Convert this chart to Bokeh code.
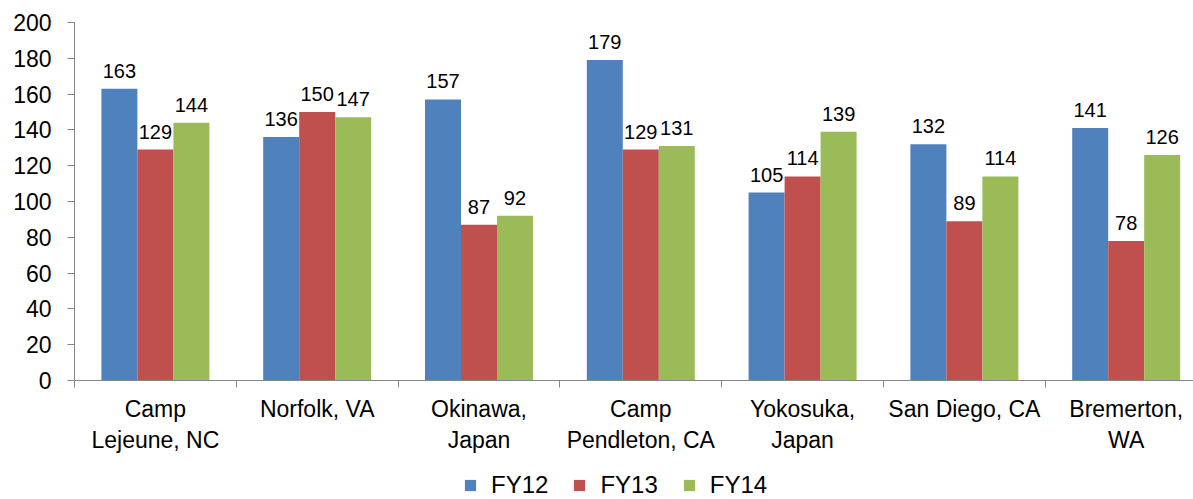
from bokeh.plotting import figure
from bokeh.layouts import column
from bokeh.models import Range1d, FixedTicker, ColumnDataSource, LabelSet, Legend, LegendItem
from bokeh.core.properties import value
from bokeh.embed import file_html
from bokeh.resources import INLINE

categories = ["Camp\nLejeune, NC", "Norfolk, VA", "Okinawa,\nJapan", "Camp\nPendleton, CA",
              "Yokosuka,\nJapan", "San Diego, CA", "Bremerton,\nWA"]
fy12 = [163, 136, 157, 179, 105, 132, 141]
fy13 = [129, 150, 87, 129, 114, 89, 78]
fy14 = [144, 147, 92, 131, 139, 114, 126]
series_names = ["FY12", "FY13", "FY14"]
series_values = [fy12, fy13, fy14]
colors = ["#4F81BD", "#C0504D", "#9BBB59"]
y_ticks = list(range(0, 201, 20))

FONT = "Liberation Sans"
AXIS_COLOR = "#868686"
W = 1193
H_MAIN, H_LEG = 455, 44
bar_w = 0.2225
offsets = [-bar_w, 0.0, bar_w]

p1 = figure(width=W, height=H_MAIN, output_backend="svg", toolbar_location=None,
            x_range=Range1d(0, 6.916), y_range=Range1d(0, 200),
            min_border_left=74, min_border_right=0, min_border_top=22, min_border_bottom=74)
p1.xgrid.grid_line_color = None
p1.ygrid.grid_line_color = None
p1.outline_line_color = None

sources = []
for name, vals, col, off in zip(series_names, series_values, colors, offsets):
    xs = [i + 0.5 + off for i in range(len(categories))]
    src = ColumnDataSource(dict(x=xs, top=vals, label=[str(v) for v in vals]))
    sources.append(src)
    p1.vbar(x="x", top="top", bottom=0, width=bar_w, source=src,
            fill_color=col, line_color=None)
    lbl = LabelSet(x="x", y="top", text="label", source=src, text_align="center",
                   text_baseline="alphabetic", y_offset=11, text_font=value(FONT),
                   text_font_size="20px", text_color="black")
    p1.add_layout(lbl)

# x axis
xa = p1.xaxis[0]
xa.ticker = FixedTicker(ticks=[i + 0.5 for i in range(len(categories))],
                        minor_ticks=list(range(len(categories) + 1)))
xa.major_label_overrides = {i + 0.5: c for i, c in enumerate(categories)}
xa.major_tick_out = 0
xa.major_tick_in = 0
xa.minor_tick_out = 7
xa.minor_tick_in = 0
xa.minor_tick_line_color = AXIS_COLOR
xa.axis_line_color = AXIS_COLOR
xa.major_label_standoff = 8
xa.major_label_text_font = FONT
xa.major_label_text_font_size = "23px"
xa.major_label_text_color = "black"

# y axis
ya = p1.yaxis[0]
ya.ticker = FixedTicker(ticks=y_ticks)
ya.major_tick_out = 7
ya.major_tick_in = 0
ya.minor_tick_line_color = None
ya.major_tick_line_color = AXIS_COLOR
ya.axis_line_color = AXIS_COLOR
ya.major_label_standoff = 16
ya.major_label_text_font = FONT
ya.major_label_text_font_size = "23px"
ya.major_label_text_color = "black"

# legend strip (same data sources, drawn outside this strip's visible range)
p2 = figure(width=W, height=H_LEG, output_backend="svg", toolbar_location=None,
            x_axis_location=None, y_axis_location=None,
            x_range=Range1d(-100, -99), y_range=Range1d(0, 1),
            min_border=0, min_border_left=0, min_border_right=0,
            min_border_top=0, min_border_bottom=0)
p2.xgrid.grid_line_color = None
p2.ygrid.grid_line_color = None
p2.outline_line_color = None
leg_renderers = []
for src, col in zip(sources, colors):
    r = p2.vbar(x="x", top="top", bottom=0, width=bar_w, source=src,
                fill_color=col, line_color=None)
    leg_renderers.append(r)

legend = Legend(items=[LegendItem(label=n, renderers=[r]) for n, r in zip(series_names, leg_renderers)],
                orientation="horizontal", location=(389, 0),
                glyph_width=14, glyph_height=14, label_standoff=14, spacing=24,
                padding=0, margin=0, border_line_color=None, background_fill_alpha=0,
                label_text_font=FONT, label_text_font_size="24px", label_text_color="black")
p2.add_layout(legend, "center")

layout = column(p1, p2, spacing=0)
open("out.html", "w").write(file_html(layout, INLINE))
